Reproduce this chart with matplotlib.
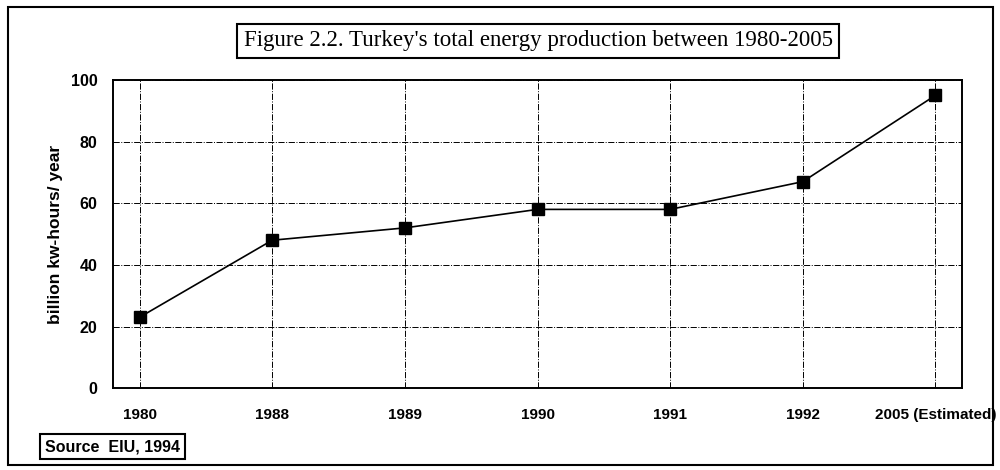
from matplotlib import pyplot as plt
from matplotlib.patches import Rectangle

years = ['1980', '1988', '1989', '1990', '1991', '1992', '2005 (Estimated)']
production = [23, 48, 52, 58, 58, 67, 95]  # billion kw-hours / year

fig = plt.figure(figsize=(10, 4.7), dpi=100)
ax = fig.add_axes([0.113, 0.174, 0.849, 0.656])

x = range(len(years))
ax.plot(x, production, color='black', linewidth=1.2, marker='s',
        markersize=9, markerfacecolor='black', markeredgecolor='black')

ax.set_xlim(-0.2, len(years) - 0.8)
ax.set_ylim(0, 100)
ax.set_yticks(range(0, 101, 20))
ax.set_xticks(list(x))
ax.set_xticklabels(years)
ax.grid(True, color='black', linestyle='-.', linewidth=0.7)
ax.tick_params(axis='y', length=0, pad=11, labelsize=11.5)
ax.tick_params(axis='x', length=0, pad=14, labelsize=11)
for lab in ax.get_xticklabels() + ax.get_yticklabels():
    lab.set_fontweight('bold')
    lab.set_family('Liberation Sans')
for s in ax.spines.values():
    s.set_linewidth(1.4)

ax.set_ylabel('billion kw-hours/ year', fontsize=12.5, fontweight='bold',
              family='Liberation Sans', labelpad=6)

# title in a box
fig.text(0.538, 0.913, "Figure 2.2. Turkey's total energy production between 1980-2005",
         ha='center', va='center', fontsize=16.5, family='Liberation Serif',
         bbox=dict(boxstyle='square,pad=0.3', facecolor='white',
                   edgecolor='black', linewidth=1.5))

# source box
fig.text(0.045, 0.05, 'Source  EIU, 1994', ha='left', va='center',
         fontsize=11.5, fontweight='bold', family='Liberation Sans',
         bbox=dict(boxstyle='square,pad=0.3', facecolor='white',
                   edgecolor='black', linewidth=1.5))

# outer frame
fig.patches.append(Rectangle((0.008, 0.01), 0.985, 0.975, transform=fig.transFigure,
                             fill=False, edgecolor='black', linewidth=1.5))

fig.savefig('out.png', dpi=100)
